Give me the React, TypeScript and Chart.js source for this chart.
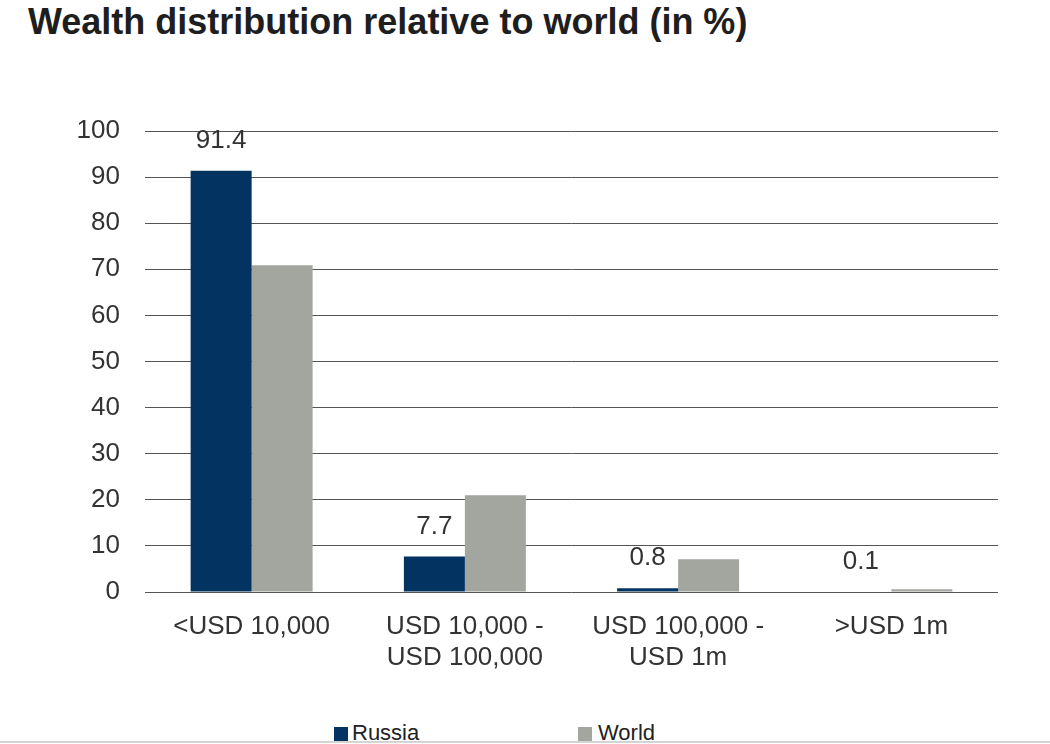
import React, { useEffect, useRef } from "react";
import { Chart, registerables } from "chart.js";

Chart.register(...registerables);

const categories: string[][] = [
  ["<USD 10,000"],
  ["USD 10,000 -", "USD 100,000"],
  ["USD 100,000 -", "USD 1m"],
  [">USD 1m"],
];
const russiaValues = [91.4, 7.7, 0.8, 0.1];
const worldValues = [70.9, 21.0, 7.1, 0.6];
const seriesNames = ["Russia", "World"];
const yTicksMin = 0;
const yTicksMax = 100;
const yTicksStep = 10;

const NAVY = "#023361";
const GRAY = "#a3a59f";
const FONT = "'Liberation Sans', Arial, sans-serif";

const valueLabels = {
  id: "valueLabels",
  afterDatasetsDraw(chart: any) {
    const ctx = chart.ctx;
    const meta = chart.getDatasetMeta(0);
    ctx.save();
    ctx.font = `26px ${FONT}`;
    ctx.fillStyle = "#333333";
    ctx.textAlign = "center";
    ctx.textBaseline = "alphabetic";
    meta.data.forEach((bar: any, i: number) => {
      const v = russiaValues[i];
      ctx.fillText(v.toFixed(1), bar.x, bar.y - 23);
    });
    ctx.restore();
  },
};

export default function App() {
  const ref = useRef<HTMLCanvasElement | null>(null);

  useEffect(() => {
    if (!ref.current) return;
    const chart = new Chart(ref.current, {
      type: "bar",
      data: {
        labels: categories,
        datasets: [
          {
            label: seriesNames[0],
            data: russiaValues,
            backgroundColor: NAVY,
            categoryPercentage: 0.572,
            barPercentage: 1,
          },
          {
            label: seriesNames[1],
            data: worldValues,
            backgroundColor: GRAY,
            categoryPercentage: 0.572,
            barPercentage: 1,
          },
        ],
      },
      options: {
        responsive: false,
        animation: false,
        layout: { padding: { top: 71, right: 52, bottom: 8, left: 0 } },
        plugins: {
          legend: { display: false },
          tooltip: { enabled: false },
          title: { display: false },
        },
        scales: {
          x: {
            grid: { display: false, drawTicks: false },
            border: { display: false },
            ticks: {
              color: "#333333",
              font: { family: FONT, size: 26, lineHeight: 1.2 },
              padding: 19,
              maxRotation: 0,
              autoSkip: false,
            },
            afterFit: (s: any) => {
              s.height = 100;
            },
          },
          y: {
            min: yTicksMin,
            max: yTicksMax,
            grid: { color: "#555555", lineWidth: 1, drawTicks: false },
            border: { display: false },
            ticks: {
              stepSize: yTicksStep,
              color: "#333333",
              font: { family: FONT, size: 26 },
              padding: 25,
            },
            afterFit: (s: any) => {
              s.width = 145;
            },
          },
        },
      },
      plugins: [valueLabels],
    });
    return () => chart.destroy();
  }, []);

  return (
    <div
      style={{
        position: "absolute",
        left: 0,
        top: 0,
        width: 1050,
        height: 744,
        background: "#ffffff",
        overflow: "hidden",
        fontFamily: FONT,
      }}
    >
      <div
        style={{
          position: "absolute",
          left: 28,
          top: 2,
          fontSize: 36,
          lineHeight: "40px",
          fontWeight: "bold",
          color: "#1e1e1e",
          whiteSpace: "nowrap",
        }}
      >
        Wealth distribution relative to world (in %)
      </div>
      <div style={{ position: "absolute", left: 0, top: 60, width: 1050, height: 640 }}>
        <canvas ref={ref} width={1050} height={640} style={{ width: 1050, height: 640, display: "block" }} />
      </div>
      <div style={{ position: "absolute", left: 334, top: 727, width: 14, height: 14, background: NAVY }} />
      <div
        style={{
          position: "absolute",
          left: 352,
          top: 722,
          fontSize: 22,
          lineHeight: "22px",
          color: "#222222",
        }}
      >
        {seriesNames[0]}
      </div>
      <div style={{ position: "absolute", left: 578, top: 727, width: 14, height: 14, background: GRAY }} />
      <div
        style={{
          position: "absolute",
          left: 598,
          top: 722,
          fontSize: 22,
          lineHeight: "22px",
          color: "#222222",
        }}
      >
        {seriesNames[1]}
      </div>
      <div
        style={{
          position: "absolute",
          left: 0,
          top: 741,
          width: 1050,
          height: 2,
          background: "#d4d4d4",
        }}
      />
    </div>
  );
}
